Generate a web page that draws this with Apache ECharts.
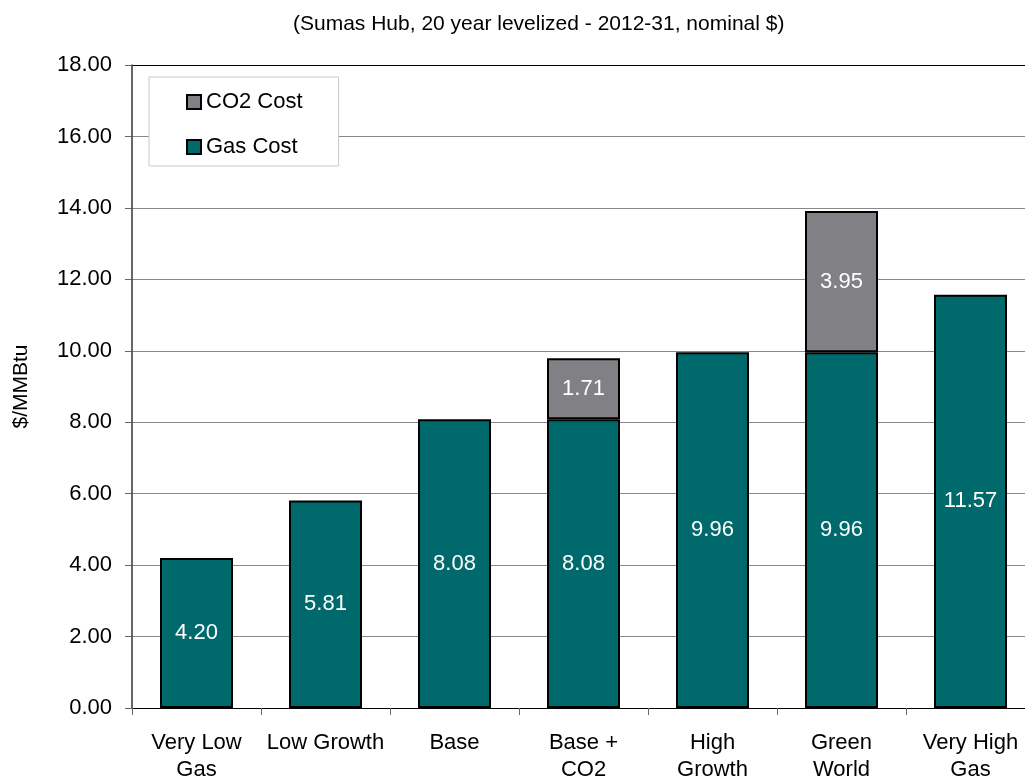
<!DOCTYPE html>
<html>
<head>
<meta charset="utf-8">
<script src="https://cdn.jsdelivr.net/npm/echarts@6/dist/echarts.min.js"></script>
<style>
  html, body { margin: 0; padding: 0; background: #fff; }
  #chart { width: 1025px; height: 780px; }
</style>
</head>
<body>
<div id="chart"></div>
<script>
// 情景分类
const categories = ['Very Low\nGas', 'Low Growth', 'Base', 'Base +\nCO2', 'High\nGrowth', 'Green\nWorld', 'Very High\nGas'];
const gasCost = [4.20, 5.81, 8.08, 8.08, 9.96, 9.96, 11.57];
const co2Cost = ['-', '-', '-', 1.71, '-', 3.95, '-'];
const yTicks = {min: 0, max: 18, interval: 2};

const FONT = "'Liberation Sans', Arial, sans-serif";
const chart = echarts.init(document.getElementById('chart'));

const barLabel = {
  show: true,
  position: 'inside',
  color: '#fff',
  fontSize: 22,
  fontFamily: FONT,
  formatter: (p) => Number(p.value).toFixed(2)
};

const option = {
  animation: false,
  backgroundColor: '#fff',
  textStyle: {fontFamily: FONT},
  title: {
    text: '(Sumas Hub, 20 year levelized - 2012-31, nominal $)',
    left: 288,
    top: 9,
    textStyle: {fontSize: 21, fontWeight: 'normal', color: '#000', fontFamily: FONT}
  },
  legend: {
    orient: 'vertical',
    left: 149,
    top: 77,
    data: ['CO2 Cost', 'Gas Cost'],
    icon: 'rect',
    itemWidth: 14,
    itemHeight: 14,
    itemGap: 21,
    padding: [13, 36, 7, 37],
    backgroundColor: '#fff',
    borderColor: '#c8c8c8',
    borderWidth: 1,
    textStyle: {fontSize: 22, color: '#000', lineHeight: 24, fontFamily: FONT}
  },
  // 图表右侧超出画布，关闭 v6 的自动收缩
  grid: {left: 132, top: 65, width: 903, height: 643, outerBoundsMode: 'none', containLabel: false},
  xAxis: {
    type: 'category',
    data: categories,
    axisLine: {lineStyle: {color: '#000', width: 1}},
    axisTick: {show: true, length: 7, lineStyle: {color: '#666'}},
    axisLabel: {color: '#000', fontSize: 22, lineHeight: 27, margin: 21, interval: 0, fontFamily: FONT}
  },
  yAxis: {
    type: 'value',
    min: yTicks.min,
    max: yTicks.max,
    interval: yTicks.interval,
    name: '$/MMBtu',
    nameLocation: 'middle',
    nameRotate: 90,
    nameGap: 100,
    nameTextStyle: {color: '#000', fontSize: 21, fontFamily: FONT},
    axisLine: {show: true, lineStyle: {color: '#333', width: 1.5}},
    axisTick: {show: true, length: 7, lineStyle: {color: '#666'}},
    axisLabel: {color: '#000', fontSize: 22, margin: 20, fontFamily: FONT, formatter: (v) => v.toFixed(2)},
    splitLine: {
      show: true,
      lineStyle: {color: ['#888', '#888', '#888', '#888', '#888', '#888', '#888', '#888', '#888', '#000'], width: 1}
    }
  },
  series: [
    {
      name: 'Gas Cost',
      type: 'bar',
      stack: 'cost',
      data: gasCost,
      barWidth: 73,
      itemStyle: {color: '#00696B', borderColor: '#000', borderWidth: 2},
      label: barLabel
    },
    {
      name: 'CO2 Cost',
      type: 'bar',
      stack: 'cost',
      data: co2Cost,
      barWidth: 73,
      itemStyle: {color: '#808085', borderColor: '#000', borderWidth: 2},
      label: barLabel
    }
  ]
};

chart.setOption(option);
</script>
</body>
</html>
